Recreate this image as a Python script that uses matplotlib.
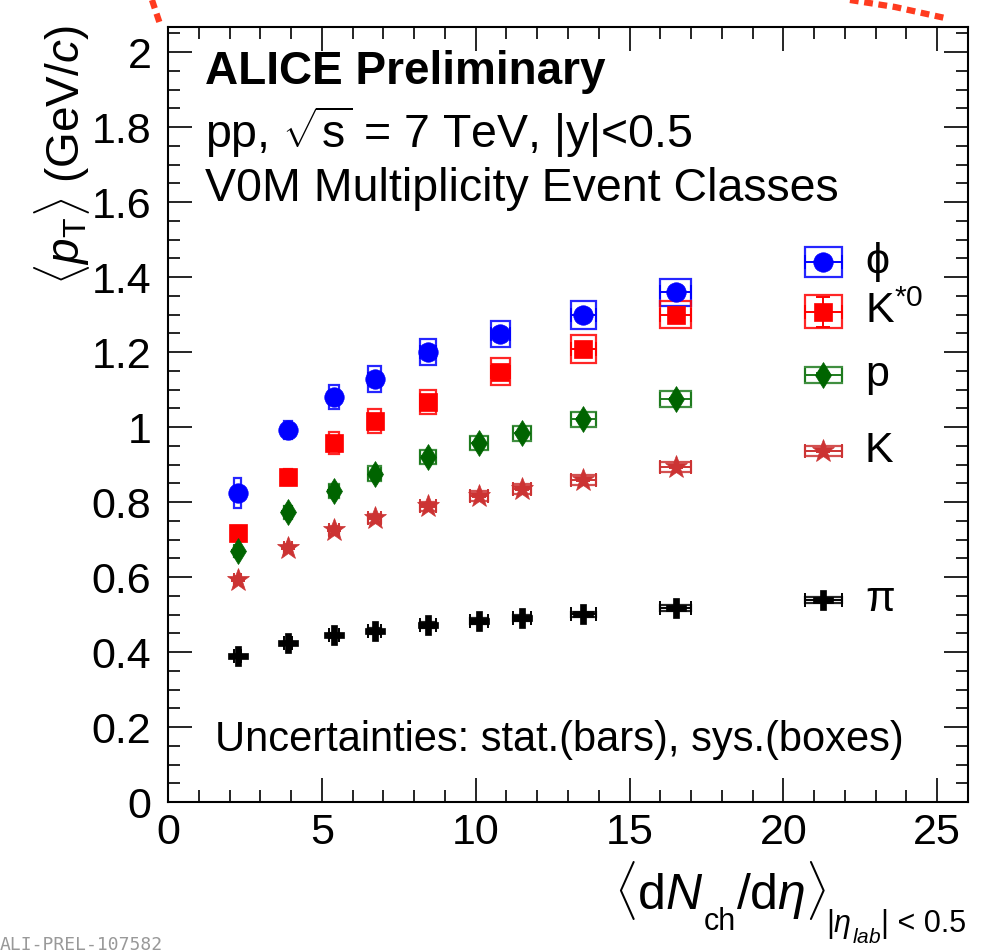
import matplotlib
matplotlib.use("Agg")
import matplotlib.pyplot as plt
from matplotlib.patches import Rectangle
from matplotlib.lines import Line2D
from matplotlib.ticker import MultipleLocator

plt.rcParams['font.family'] = ['Liberation Sans', 'DejaVu Sans']
plt.rcParams['mathtext.fontset'] = 'custom'
plt.rcParams['mathtext.rm'] = 'Liberation Sans'
plt.rcParams['mathtext.it'] = 'Liberation Sans:italic'
plt.rcParams['mathtext.bf'] = 'Liberation Sans:bold'

# ---------------- data ----------------
# multiplicity classes (pi, K, p)
x_main = [2.26, 3.90, 5.40, 6.72, 8.45, 10.1, 11.5, 13.5, 16.5, 21.3]
x_main_sys = [0.12, 0.14, 0.17, 0.21, 0.25, 0.30, 0.30, 0.40, 0.50, 0.60]
# multiplicity classes (resonances phi, K*0)
x_res = [2.26, 3.90, 5.40, 6.72, 8.45, 10.8, 13.5, 16.5, 21.3]
x_res_sys = [0.12, 0.14, 0.17, 0.21, 0.25, 0.30, 0.40, 0.50, 0.60]

phi_y = [0.824, 0.992, 1.080, 1.128, 1.200, 1.248, 1.299, 1.360, 1.440]
phi_stat = [0.012, 0.008, 0.008, 0.008, 0.008, 0.008, 0.009, 0.010, 0.012]
phi_sys = [0.039, 0.025, 0.032, 0.035, 0.034, 0.035, 0.037, 0.036, 0.039]

kst_y = [0.717, 0.867, 0.957, 1.016, 1.067, 1.147, 1.208, 1.299, 1.307]
kst_stat = [0.010, 0.008, 0.008, 0.008, 0.008, 0.010, 0.010, 0.012, 0.040]
kst_sys = [0.020, 0.022, 0.030, 0.032, 0.033, 0.036, 0.038, 0.036, 0.044]

p_y = [0.669, 0.773, 0.829, 0.875, 0.920, 0.957, 0.984, 1.021, 1.075, 1.139]
p_stat = [0.003, 0.003, 0.003, 0.003, 0.003, 0.003, 0.003, 0.003, 0.003, 0.004]
p_sys = [0.015, 0.017, 0.018, 0.020, 0.019, 0.019, 0.020, 0.020, 0.021, 0.022]

k_y = [0.592, 0.677, 0.725, 0.757, 0.789, 0.816, 0.835, 0.859, 0.893, 0.936]
k_stat = [0.002, 0.002, 0.002, 0.002, 0.002, 0.002, 0.002, 0.002, 0.002, 0.002]
k_sys = [0.010, 0.011, 0.012, 0.012, 0.012, 0.013, 0.013, 0.013, 0.013, 0.014]

pi_y = [0.389, 0.424, 0.445, 0.456, 0.472, 0.483, 0.491, 0.501, 0.517, 0.539]
pi_stat = [0.001, 0.001, 0.001, 0.001, 0.001, 0.001, 0.001, 0.001, 0.001, 0.001]
pi_sys = [0.006, 0.006, 0.007, 0.007, 0.007, 0.007, 0.007, 0.007, 0.008, 0.008]

labels = ["\u03d5", r"K$^{*0}$", "p", "K", "\u03c0"]

# ---------------- figure ----------------
W, H = 993, 950
fig = plt.figure(figsize=(W / 100, H / 100), dpi=100)
ax = fig.add_axes([168 / W, 1 - 802 / H, (968 - 168) / W, (802 - 27) / H])
ax.set_xlim(0, 26)
ax.set_ylim(0, 2.067)

series = [
    (x_res, x_res_sys, phi_y, phi_stat, phi_sys, 'o', 14, '#0000FF', '#0000FF'),
    (x_res, x_res_sys, kst_y, kst_stat, kst_sys, 's', 13, '#FF0000', '#FF0000'),
    (x_main, x_main_sys, p_y, p_stat, p_sys, 'd', 13, '#006400', '#1E7B1E'),
    (x_main, x_main_sys, k_y, k_stat, k_sys, '*', 17, '#CC3333', '#CC3333'),
    (x_main, x_main_sys, pi_y, pi_stat, pi_sys, 'P', 15, '#000000', '#000000'),
]

for xs, xse, ys, st, sy, mk, ms, col, bcol in series:
    for xi, xe, yi, ye in zip(xs, xse, ys, sy):
        ax.add_patch(Rectangle((xi - xe, yi - ye), 2 * xe, 2 * ye, fill=False,
                               edgecolor=bcol, linewidth=1.6, alpha=0.85, zorder=2))
    ax.errorbar(xs, ys, xerr=xse, yerr=st, fmt='none', ecolor=bcol, elinewidth=1.4,
                capsize=5, capthick=1.4, zorder=3)
    ax.plot(xs, ys, linestyle='none', marker=mk, markersize=ms, color=col,
            markeredgecolor=col, markeredgewidth=0.5, zorder=4)

# labels next to the highest-multiplicity points
lab_y = [phi_y[-1], kst_y[-1], p_y[-1], k_y[-1], pi_y[-1]]
for lab, ly in zip(labels, lab_y):
    ax.text(22.65, ly, lab, fontsize=31, ha='left', va='center', zorder=5)

# ticks
ax.xaxis.set_major_locator(MultipleLocator(5))
ax.xaxis.set_minor_locator(MultipleLocator(1))
ax.yaxis.set_major_locator(MultipleLocator(0.2))
ax.yaxis.set_minor_locator(MultipleLocator(0.05))
ax.tick_params(which='both', direction='in', top=True, right=True, width=1.2)
ax.tick_params(which='major', length=17)
ax.tick_params(which='minor', length=8.5)
ax.tick_params(axis='y', labelsize=31, pad=12)
ax.tick_params(axis='x', labelsize=31, pad=8)
ax.set_yticks([0, 0.2, 0.4, 0.6, 0.8, 1.0, 1.2, 1.4, 1.6, 1.8, 2.0])
ax.set_yticklabels(['0', '0.2', '0.4', '0.6', '0.8', '1', '1.2', '1.4', '1.6', '1.8', '2'])
for sp in ax.spines.values():
    sp.set_linewidth(1.5)

# texts
fig.text(205 / W, 1 - 72 / H, "ALICE Preliminary",
         fontsize=33, fontweight='bold', ha='left', va='center')
fig.text(205 / W, 1 - 132 / H, r"pp, $\sqrt{\rm s}$ = 7 TeV, |y|<0.5",
         fontsize=33.5, ha='left', va='center')
fig.text(205 / W, 1 - 189 / H, "V0M Multiplicity Event Classes",
         fontsize=33.5, ha='left', va='center')
fig.text(215 / W, 1 - 740 / H, "Uncertainties: stat.(bars), sys.(boxes)",
         fontsize=30, ha='left', va='center')

fig.text(62 / W, 1 - 25 / H, r"$\langle p_{\rm T}\rangle$ (GeV/$c$)", rotation=90,
         fontsize=33, ha='center', va='top')

# x-axis title composed of pieces (text, baseline in px from top, font size)
pieces = [
    (r"$\langle{\rm d}N$", 909, 36),
    ("ch", 930, 22),
    (r"$/{\rm d}\eta\rangle$", 909, 36),
    (r"$|\eta$", 932, 22),
    (r"$lab$", 943, 15),
    ("| < 0.5", 932, 22),
]
renderer = fig.canvas.get_renderer()
objs = []
for s, base, fs in pieces:
    t = fig.text(0, 1 - base / H, s, fontsize=fs, ha='left', va='baseline')
    objs.append(t)
widths = [t.get_window_extent(renderer).width for t in objs]
xcur = 966 - sum(widths)
for t, w in zip(objs, widths):
    t.set_x(xcur / W)
    xcur += w

fig.text(163 / W, -4 / H, "ALI-PREL-107582", fontsize=13, color='#999999',
         family='DejaVu Sans Mono', ha='right', va='bottom')

# red dotted decoration at the top
fig.add_artist(Line2D([152 / W, 156 / W, 160 / W], [1.0, 1 - 12 / H, 1 - 24 / H],
                      color='#FF3B1F', linewidth=4.5, linestyle=(0, (1.4, 0.9))))
fig.add_artist(Line2D([850 / W, 895 / W, 945 / W], [1.0, 1 - 7 / H, 1 - 18 / H],
                      color='#FF3B1F', linewidth=4.5, linestyle=(0, (1.4, 0.9))))

fig.savefig("out.png", dpi=100)
